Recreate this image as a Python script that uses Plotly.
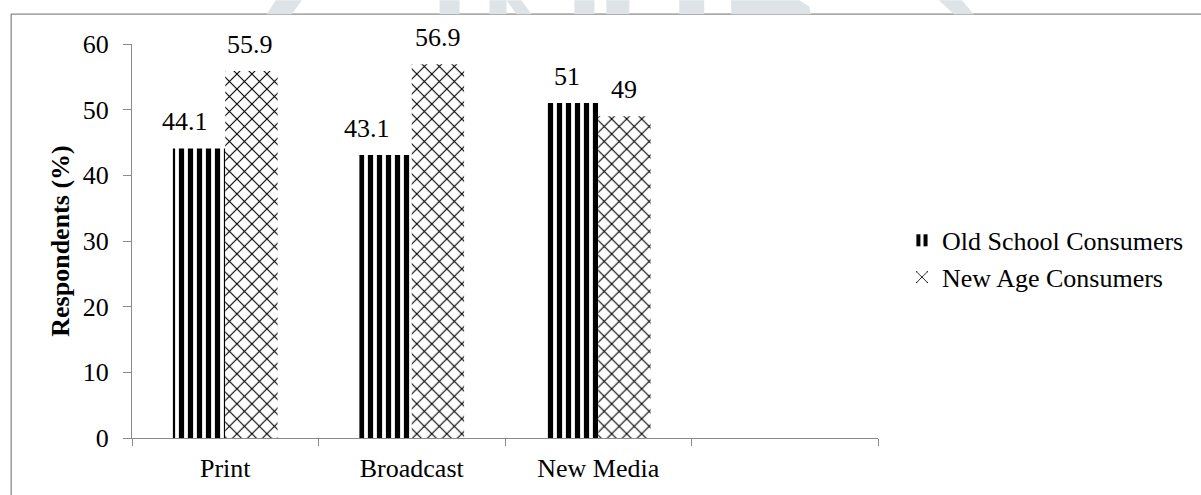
import plotly.graph_objects as go

# ---- data ----
categories = ["Print", "Broadcast", "New Media", " "]
old_school = [44.1, 43.1, 51]
new_age = [55.9, 56.9, 49]
series_names = ["Old School Consumers", "New Age Consumers"]
y_ticks = [0, 10, 20, 30, 40, 50, 60]

FONT = "Liberation Serif, Times New Roman, serif"
FS = 26
W, H = 1201, 495
L, R, T, B = 132, 879, 44, 440  # plot area in pixels


def px(x):
    return (x - L) / (R - L)


def py(y):
    return (B - y) / (B - T)


fig = go.Figure()
fig.add_trace(go.Bar(
    x=categories[:3], y=old_school, name=series_names[0],
    marker=dict(color="white", line=dict(width=0),
                pattern=dict(shape="|", size=9, solidity=0.58,
                             fgcolor="black", bgcolor="white", fillmode="replace")),
))
fig.add_trace(go.Bar(
    x=categories[:3], y=new_age, name=series_names[1],
    marker=dict(color="white", line=dict(width=0),
                pattern=dict(shape="x", size=10.6, solidity=0.2,
                             fgcolor="black", bgcolor="white", fillmode="replace")),
))

# data labels
label_dx_old = [-14, -19, -5]
label_dx_new = [-1, 0, 0]
off = 0.5615 / 4
for i, v in enumerate(old_school):
    fig.add_annotation(x=i - off, y=v, xref="x", yref="y", text=f"{v:g}",
                       showarrow=False, yanchor="middle", yshift=26.5,
                       xshift=label_dx_old[i],
                       font=dict(family=FONT, size=FS, color="black"))
for i, v in enumerate(new_age):
    fig.add_annotation(x=i + off, y=v, xref="x", yref="y", text=f"{v:g}",
                       showarrow=False, yanchor="middle", yshift=26.5,
                       xshift=label_dx_new[i],
                       font=dict(family=FONT, size=FS, color="black"))

shapes = []
# outer frame (extends off the canvas to the right and bottom)
shapes.append(dict(type="rect", xref="paper", yref="paper",
                   x0=px(11), x1=px(1210), y0=py(505), y1=py(14),
                   line=dict(color="#8a8a8a", width=1.3), fillcolor="rgba(0,0,0,0)",
                   layer="below"))
# faint watermark fragments above the frame
wm = "#dde3e7"
polys = [
    [(267, 14), (292, 14), (302, 0), (276, 0)],
    [(440, 14), (460, 14), (460, 0), (440, 0)],
    [(490, 14), (507, 14), (507, 0), (490, 0)],
    [(507, 0), (522, 0), (532, 14), (517, 14)],
    [(575, 14), (595, 14), (595, 0), (575, 0)],
    [(607, 14), (630, 14), (630, 0), (607, 0)],
    [(680, 14), (705, 14), (705, 0), (680, 0)],
    [(732, 14), (812, 14), (810, 6), (800, 0), (732, 0)],
    [(940, 0), (963, 0), (975, 14), (955, 14)],
]
for p in polys:
    path = "M " + " L ".join(f"{px(a):.5f},{py(b):.5f}" for a, b in p) + " Z"
    shapes.append(dict(type="path", xref="paper", yref="paper", path=path,
                       fillcolor=wm, line=dict(width=0), layer="below"))

fig.update_layout(
    width=W, height=H,
    margin=dict(l=L, r=W - R, t=T, b=H - B, pad=0),
    paper_bgcolor="white", plot_bgcolor="white",
    barmode="group", bargap=0.4385, bargroupgap=0,
    font=dict(family=FONT, size=FS, color="black"),
    showlegend=True,
    legend=dict(x=px(903), xanchor="left", y=py(260), yanchor="middle",
                font=dict(family=FONT, size=FS, color="black"),
                bgcolor="rgba(0,0,0,0)", tracegroupgap=0, itemwidth=30),
    shapes=shapes,
)
fig.update_xaxes(
    type="category", categoryorder="array", categoryarray=categories,
    range=[-0.5, 3.5], showline=True, linecolor="#8a8a8a", linewidth=1.3,
    ticks="outside", tickson="boundaries", ticklen=7, tickcolor="#8a8a8a",
    tickwidth=1.3, showgrid=False, zeroline=False, ticklabelstandoff=7,
    tickfont=dict(family=FONT, size=FS, color="black"),
)
fig.update_yaxes(
    range=[0, 60], tickvals=y_ticks, showline=True, linecolor="#8a8a8a",
    linewidth=1.3, ticks="outside", ticklen=8, tickcolor="#8a8a8a", tickwidth=1.3,
    showgrid=False, zeroline=False, ticklabelstandoff=9,
    tickfont=dict(family=FONT, size=FS, color="black"),
    title=dict(text="<b>Respondents (%)</b>", standoff=5,
               font=dict(family=FONT, size=FS, color="black")),
)

fig.write_html("out.html")
